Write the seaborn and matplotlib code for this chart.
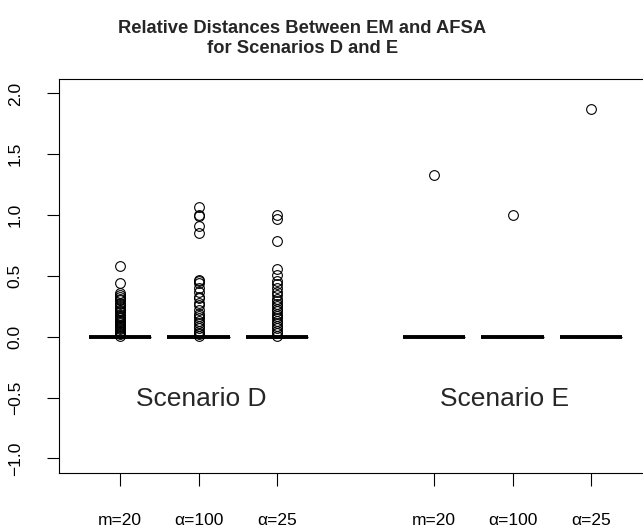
import numpy as np
import pandas as pd
import matplotlib
matplotlib.use("Agg")
import matplotlib.pyplot as plt
import seaborn as sns

# ---- data ----
positions = [1, 2, 3, 5, 6, 7]
tick_labels = ["m=20", "α=100", "α=25", "m=20", "α=100", "α=25"]
yticks = [-1.0, -0.5, 0.0, 0.5, 1.0, 1.5, 2.0]

d_m20 = [0.58, 0.44, 0.36, 0.34, 0.33, 0.31, 0.30, 0.28, 0.27, 0.25, 0.24,
         0.22, 0.21, 0.20, 0.18, 0.17, 0.16, 0.15, 0.14, 0.13, 0.12, 0.11,
         0.10, 0.09, 0.08, 0.07, 0.06, 0.05, 0.04, 0.03, 0.02, 0.01]
d_a100 = [1.07, 1.00, 0.99, 0.91, 0.85, 0.47, 0.46, 0.44, 0.40, 0.37, 0.33,
          0.32, 0.28, 0.26, 0.22, 0.19, 0.17, 0.15, 0.13, 0.11, 0.09, 0.07,
          0.05, 0.03, 0.02, 0.01]
d_a25 = [1.00, 0.97, 0.79, 0.56, 0.51, 0.46, 0.43, 0.40, 0.37, 0.34, 0.31,
         0.29, 0.27, 0.25, 0.23, 0.21, 0.19, 0.17, 0.15, 0.13, 0.11, 0.09,
         0.07, 0.05, 0.03, 0.01]
e_m20 = [1.33]
e_a100 = [1.00]
e_a25 = [1.87]
nonzero = [d_m20, d_a100, d_a25, e_m20, e_a100, e_a25]
zero_counts = [168, 174, 174, 199, 199, 199]

rows = []
for pos, vals, nz in zip(positions, nonzero, zero_counts):
    for v in list(vals) + [0.0] * nz:
        rows.append((pos, v))
df = pd.DataFrame(rows, columns=["pos", "value"])

# ---- plot ----
sns.set_style("ticks")
plt.rcParams['font.family'] = ['Liberation Sans', 'DejaVu Sans']

fig = plt.figure(figsize=(6.43, 5.29), dpi=100)
ax = fig.add_axes([0.0914, 0.1059, 0.923, 0.745])

sns.boxplot(data=df, x="pos", y="value", native_scale=True, width=0.8,
            color="white", linecolor="black", linewidth=0.9,
            fliersize=7,
            flierprops=dict(marker="o", markerfacecolor="none",
                            markeredgecolor="black", markeredgewidth=0.8),
            medianprops=dict(linewidth=2.8, color="black",
                             solid_capstyle="butt"),
            ax=ax)

ax.set_xlim(0.22, 7.78)
ax.set_ylim(-1.12, 2.12)
ax.set_xticks(positions)
ax.set_xticklabels(tick_labels, fontsize=12.5)
ax.set_yticks(yticks)
ax.set_yticklabels([f"{t:.1f}".replace("-", "\u2212") for t in yticks],
                   rotation=90, va="center", fontsize=12.5)
ax.set_xlabel("")
ax.set_ylabel("")
for sp in ax.spines.values():
    sp.set_visible(True)
    sp.set_color("black")
    sp.set_linewidth(0.8)
ax.tick_params(axis="both", direction="out", length=9, width=0.8,
               colors="black", bottom=True, left=True)
ax.tick_params(axis="x", pad=19.5)
ax.tick_params(axis="y", pad=17)

ax.text(2.03, -0.51, "Scenario D", ha="center", va="center", fontsize=19)
ax.text(5.9, -0.51, "Scenario E", ha="center", va="center", fontsize=19)

fig.text(0.47, 0.962, "Relative Distances Between EM and AFSA\nfor Scenarios D and E",
         ha="center", va="top", fontsize=13.2, fontweight="bold",
         linespacing=1.25)

fig.savefig("out.png", dpi=100)
